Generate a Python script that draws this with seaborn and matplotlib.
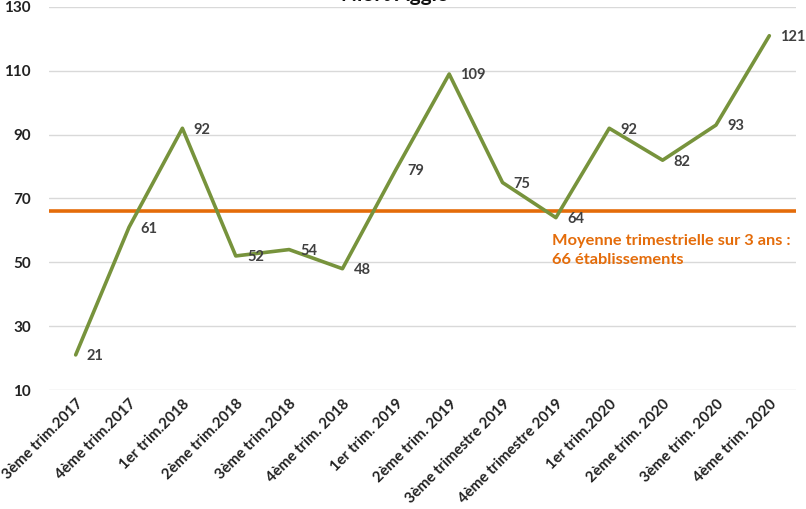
import numpy as np
import pandas as pd
import matplotlib
matplotlib.use("Agg")
import matplotlib.pyplot as plt
import seaborn as sns

# data
quarters = [
    "3ème trim.2017", "4ème trim.2017", "1er trim.2018", "2ème trim.2018",
    "3ème trim.2018", "4ème trim. 2018", "1er trim. 2019", "2ème trim. 2019",
    "3ème trimestre 2019", "4ème trimestre 2019", "1er trim.2020",
    "2ème trim. 2020", "3ème trim. 2020", "4ème trim. 2020",
]
counts = [21, 61, 92, 52, 54, 48, 79, 109, 75, 64, 92, 82, 93, 121]
average = 66
title = "Niort Agglo"
avg_label = "Moyenne trimestrielle sur 3 ans :\n66 établissements"
yticks = [10, 30, 50, 70, 90, 110, 130]

green = "#77933C"
orange = "#E46C0A"
label_gray = "#404040"

sns.set_theme(style="white")
plt.rcParams["font.family"] = ["Lato", "DejaVu Sans"]

df = pd.DataFrame({"pos": np.arange(len(quarters)), "n": counts})

fig = plt.figure(figsize=(8.06, 5.09), dpi=100)
ax = fig.add_axes([49 / 806, 119 / 509, 747 / 806, 383 / 509])

for y in yticks:
    ax.axhline(y, color="#D9D9D9", linewidth=1, zorder=0)

sns.lineplot(data=df, x="pos", y="n", color=green, linewidth=2.6, ax=ax, zorder=3)
ax.axhline(average, color=orange, linewidth=2.6, zorder=2)

for x, v in zip(df["pos"], df["n"]):
    ax.annotate(str(v), (x, v), xytext=(8, -1), textcoords="offset points",
                ha="left", va="center", fontsize=10.5, fontweight="bold",
                color=label_gray)

ax.text(8.92, 59.0, avg_label, ha="left", va="top", fontsize=11.8,
        fontweight="bold", color=orange, linespacing=1.5)

ax.set_xlim(-0.5, len(quarters) - 0.5)
ax.set_ylim(10, 130)
ax.set_yticks(yticks)
ax.set_yticklabels([str(t) for t in yticks], fontsize=11, fontweight="bold",
                   color="#222222")
ax.set_xticks(df["pos"])
ax.set_xticklabels(quarters, rotation=45, ha="right", rotation_mode="anchor",
                   fontsize=10.8, fontweight="bold", color="#222222")
ax.tick_params(axis="x", length=0, pad=5)
ax.tick_params(axis="y", length=0, pad=13)
ax.set_xlabel("")
ax.set_ylabel("")
for s in ax.spines.values():
    s.set_visible(False)

fig.text(0.49, 0.999, title, ha="center", va="baseline", fontsize=15,
         fontweight="bold", color="#111111")

fig.savefig("out.png", dpi=100)
